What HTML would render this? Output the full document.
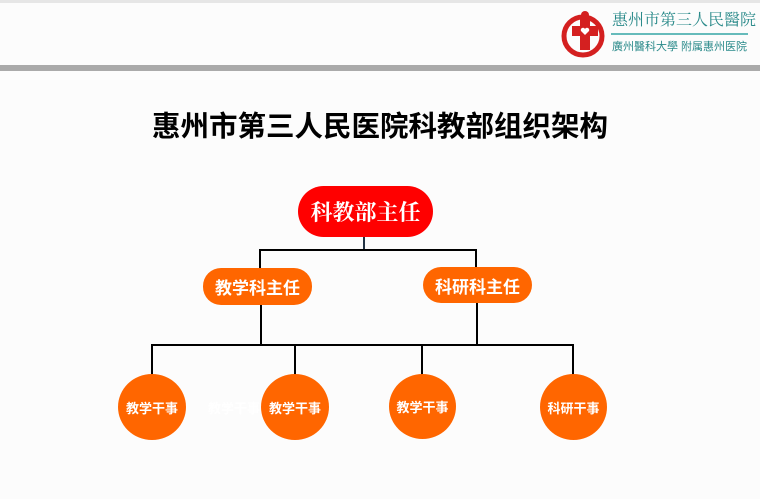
<!DOCTYPE html><html><head><meta charset="utf-8"><style>
body{margin:0;width:760px;height:499px;background:#fcfcfc;position:relative;overflow:hidden;font-family:"Liberation Sans","Noto Sans CJK SC",sans-serif}
.a{position:absolute}
.l{position:absolute;background:#000}
.p{position:absolute;color:#fff;display:flex;align-items:center;justify-content:center;font-weight:bold}
</style></head><body>
<div class="a" style="left:0;top:0;width:760px;height:3px;background:#e6e6e6"></div>
<div class="a" style="left:0;top:65px;width:760px;height:6px;background:#aaa"></div>
<svg class="a" style="left:560px;top:8px" width="50" height="50"><circle cx="23" cy="28" r="19" fill="none" stroke="#d42020" stroke-width="5"/><rect x="12" y="18" width="26" height="10" fill="#d42020"/><rect x="20" y="10" width="10" height="32" fill="#d42020"/><circle cx="25" cy="7" r="4" fill="#d42020"/><path d="M25 27l-4-4a2 2 0 0 1 4-2a2 2 0 0 1 4 2z" fill="#fff"/></svg>
<div class="a" style="left:612px;top:7px;font-size:16px;color:#2a8a8a;letter-spacing:0px;white-space:nowrap;font-family:'Noto Serif CJK SC',serif">惠州市第三人民醫院</div>
<div class="a" style="left:611px;top:33px;width:137px;height:2px;background:#6bb"></div>
<div class="a" style="left:612px;top:38px;font-size:11px;color:#2a8a8a;white-space:nowrap">廣州醫科大學 附属惠州医院</div>
<div class="a" style="left:0;top:107px;width:760px;text-align:center;font-size:28.5px;font-weight:bold;color:#000;line-height:40px">惠州市第三人民医院科教部组织架构</div>
<div class="p" style="left:298px;top:186px;width:135px;height:51px;border-radius:26px;background:#f00;font-size:22px;font-family:'Noto Serif CJK SC',serif">科教部主任</div>
<div class="l" style="left:363px;top:237px;width:2px;height:13px;background:#234"></div>
<div class="l" style="left:259px;top:249px;width:218px;height:2px"></div>
<div class="l" style="left:259px;top:249px;width:2px;height:19px"></div>
<div class="l" style="left:475px;top:249px;width:2px;height:19px"></div>
<div class="p" style="left:203px;top:268px;width:109px;height:37px;border-radius:18px;background:#f60;font-size:17px">教学科主任</div>
<div class="p" style="left:423px;top:267px;width:109px;height:36px;border-radius:18px;background:#f60;font-size:17px">科研科主任</div>
<div class="l" style="left:260px;top:305px;width:2px;height:41px"></div>
<div class="l" style="left:476px;top:303px;width:2px;height:43px"></div>
<div class="l" style="left:151px;top:344px;width:423px;height:2px"></div>
<div class="l" style="left:151px;top:344px;width:2px;height:31px"></div>
<div class="l" style="left:294px;top:344px;width:2px;height:31px"></div>
<div class="l" style="left:421px;top:344px;width:2px;height:31px"></div>
<div class="l" style="left:572px;top:344px;width:2px;height:31px"></div>
<div class="p" style="left:118px;top:374px;width:68px;height:66px;border-radius:50%;background:#f60;font-size:13px">教学干事</div>
<div class="p" style="left:200px;top:374px;width:68px;height:66px;font-size:13px">教学干事</div>
<div class="p" style="left:261px;top:374px;width:68px;height:66px;border-radius:50%;background:#f60;font-size:13px">教学干事</div>
<div class="p" style="left:389px;top:374px;width:67px;height:65px;border-radius:50%;background:#f60;font-size:13px">教学干事</div>
<div class="p" style="left:540px;top:374px;width:67px;height:66px;border-radius:50%;background:#f60;font-size:13px">科研干事</div>
</body></html>
